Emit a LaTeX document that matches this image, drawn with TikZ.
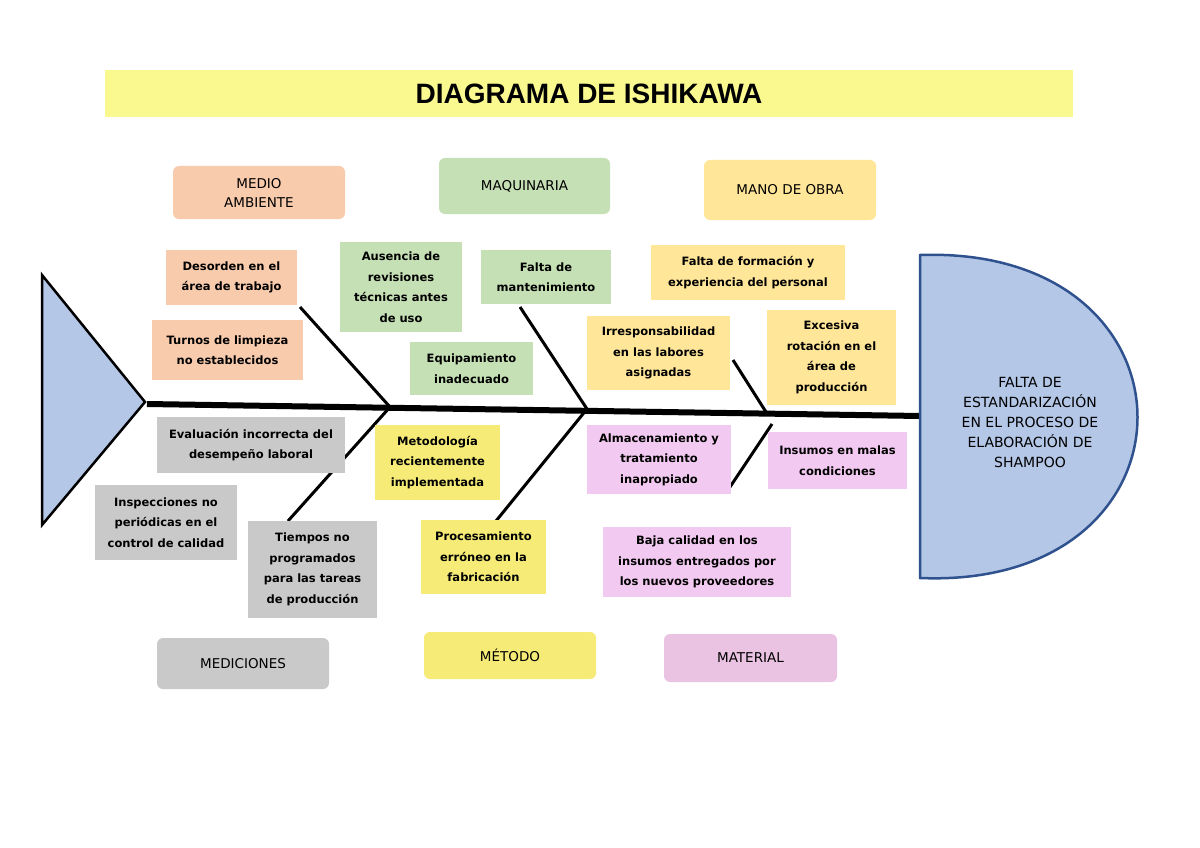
\documentclass[tikz,border=0pt]{standalone}
\usepackage{fontspec}
\setmainfont{DejaVu Sans}
\newfontfamily\titlefont{Liberation Sans}
\usetikzlibrary{positioning}
\definecolor{salmon}{HTML}{F8CBAD}
\definecolor{verde}{HTML}{C5E0B4}
\definecolor{oro}{HTML}{FFE699}
\definecolor{gris}{HTML}{C9C9C9}
\definecolor{amar}{HTML}{F5EB76}
\definecolor{rosa}{HTML}{EAC3E2}
\definecolor{rosac}{HTML}{F2C9F0}
\definecolor{azul}{HTML}{B4C7E7}
\definecolor{azulb}{HTML}{2F528F}
\definecolor{titulo}{HTML}{FAF98F}
\tikzset{
  cat/.style={rounded corners=6pt, inner sep=2pt, align=center, font=\fontsize{13.5}{19}\selectfont},
  causa/.style={inner sep=2pt, align=center, font=\fontsize{11.5}{20.5}\selectfont\bfseries},
  hueso/.style={line width=3pt},
}
\begin{document}
\begin{tikzpicture}[x=1pt,y=-1pt]
\useasboundingbox (0,0) rectangle (1200,848);
\fill[white] (0,0) rectangle (1200,848);
% titulo
\node[fill=titulo, minimum width=968pt, minimum height=47pt, font=\titlefont\fontsize{28}{30}\selectfont\bfseries] (title) at (589,93.5) {DIAGRAMA DE ISHIKAWA};
% espina y huesos
\coordinate (s1) at (390,407);
\coordinate (s2) at (587,409);
\coordinate (s3) at (766,412);
\draw[hueso] (300,307) -- (s1);
\draw[hueso] (520,307) -- (s2);
\draw[hueso] (733,360) -- (s3);
\draw[hueso] (s1) -- (288,521);
\draw[hueso] (s2) -- (496,521);
\draw[hueso] (772,424) -- (728,490);
% cola
\draw[line width=2.5pt, fill=azul] (42,275) -- (145,402) -- (42,525) -- cycle;
\draw[line width=6pt] (147,404) -- (920,416);
% cabeza
\draw[line width=2.5pt, draw=azulb, fill=azul] (920,255) .. controls (1210,245) and (1210,590) .. (920,578) -- cycle;
\node[align=center, font=\fontsize{14}{20}\selectfont] (efecto) at (1030,422) {FALTA DE\\ESTANDARIZACIÓN\\EN EL PROCESO DE\\ELABORACIÓN DE\\SHAMPOO};
% categorias
\node[cat, fill=salmon, minimum width=172pt, minimum height=53pt] (medio) at (259,192.5) {MEDIO\\AMBIENTE};
\node[cat, fill=verde, minimum width=171pt, minimum height=56pt] (maq) at (524.5,186) {MAQUINARIA};
\node[cat, fill=oro, minimum width=172pt, minimum height=60pt] (mano) at (790,190) {MANO DE OBRA};
\node[cat, fill=gris, minimum width=172pt, minimum height=51pt] (medic) at (243,663.5) {MEDICIONES};
\node[cat, fill=amar, minimum width=172pt, minimum height=47pt] (metodo) at (510,655.5) {MÉTODO};
\node[cat, fill=rosa, minimum width=173pt, minimum height=48pt] (mat) at (750.5,658) {MATERIAL};
% causas
\node[causa, fill=salmon, minimum width=131pt, minimum height=55pt] (c1) at (231.5,277.5) {Desorden en el\\área de trabajo};
\node[causa, fill=salmon, minimum width=151pt, minimum height=60pt] (c2) at (227.5,350) {Turnos de limpieza\\no establecidos};
\node[causa, fill=verde, minimum width=122pt, minimum height=90pt] (c3) at (401,287) {Ausencia de\\revisiones\\técnicas antes\\de uso};
\node[causa, fill=verde, minimum width=123pt, minimum height=53pt] (c4) at (471.5,368.5) {Equipamiento\\inadecuado};
\node[causa, fill=verde, minimum width=130pt, minimum height=54pt] (c5) at (546,277) {Falta de\\mantenimiento};
\node[causa, fill=oro, minimum width=194pt, minimum height=55pt] (c6) at (748,272.5) {Falta de formación y\\experiencia del personal};
\node[causa, fill=oro, minimum width=143pt, minimum height=74pt] (c7) at (658.5,353) {Irresponsabilidad\\en las labores\\asignadas};
\node[causa, fill=oro, minimum width=129pt, minimum height=95pt] (c8) at (831.5,357.5) {Excesiva\\rotación en el\\área de\\producción};
\node[causa, fill=gris, minimum width=188pt, minimum height=56pt] (c9) at (251,445) {Evaluación incorrecta del\\desempeño laboral};
\node[causa, fill=gris, minimum width=142pt, minimum height=75pt] (c10) at (166,522.5) {Inspecciones no\\periódicas en el\\control de calidad};
\node[causa, fill=gris, minimum width=129pt, minimum height=97pt] (c11) at (312.5,569.5) {Tiempos no\\programados\\para las tareas\\de producción};
\node[causa, fill=amar, minimum width=125pt, minimum height=75pt] (c12) at (437.5,462.5) {Metodología\\recientemente\\implementada};
\node[causa, fill=amar, minimum width=125pt, minimum height=74pt] (c13) at (483.5,557) {Procesamiento\\erróneo en la\\fabricación};
\node[causa, fill=rosac, minimum width=144pt, minimum height=69pt] (c14) at (659,459.5) {Almacenamiento y\\tratamiento\\inapropiado};
\node[causa, fill=rosac, minimum width=139pt, minimum height=57pt] (c15) at (837.5,460.5) {Insumos en malas\\condiciones};
\node[causa, fill=rosac, minimum width=188pt, minimum height=70pt] (c16) at (697,562) {Baja calidad en los\\insumos entregados por\\los nuevos proveedores};
\end{tikzpicture}
\end{document}
